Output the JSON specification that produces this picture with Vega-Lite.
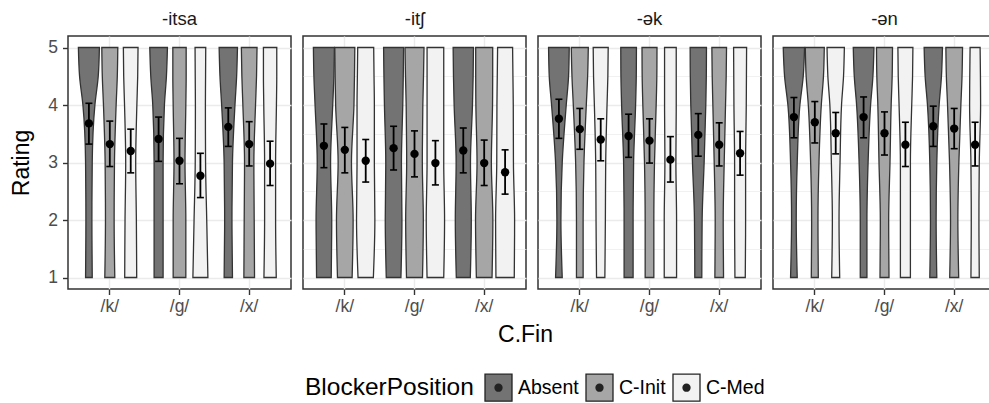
{
  "$schema": "https://vega.github.io/schema/vega-lite/v6.json",
  "background": "white",
  "padding": {"left": 10, "top": 8, "right": 0, "bottom": 0},
  "bounds": "flush",
  "config": {
    "font": "Liberation Sans",
    "view": {"stroke": "#333333", "strokeWidth": 1.5},
    "axis": {"domain": false, "tickColor": "#333333", "tickWidth": 1.4, "tickSize": 5.5, "labelFontSize": 17.5, "labelColor": "#4D4D4D", "labelPadding": 5, "gridColor": "#EBEBEB", "titleFontSize": 23, "titleFontWeight": "normal", "titleColor": "#000000"},
    "axisX": {"labelPadding": 3},
    "area": {"stroke": "#333333", "strokeWidth": 1.3, "interpolate": "monotone", "opacity": 1},
    "rule": {"color": "#000000", "strokeWidth": 1.8},
    "tick": {"size": 7, "thickness": 1.6, "opacity": 1, "color": "#000000"},
    "point": {"filled": true, "size": 70, "opacity": 1, "color": "#000000"},
    "title": {"fontSize": 18.5, "fontWeight": "normal", "color": "#1A1A1A", "anchor": "middle", "offset": 8}
  },
  "data": {"values": [
    {"s":"-itsa","c":"/k/","b":"Absent","r":1,"w":20},{"s":"-itsa","c":"/k/","b":"Absent","r":2,"w":18},{"s":"-itsa","c":"/k/","b":"Absent","r":3,"w":20},{"s":"-itsa","c":"/k/","b":"Absent","r":4,"w":36},{"s":"-itsa","c":"/k/","b":"Absent","r":4.5,"w":56},{"s":"-itsa","c":"/k/","b":"Absent","r":5,"w":63},
    {"s":"-itsa","c":"/k/","b":"C-Init","r":1,"w":30},{"s":"-itsa","c":"/k/","b":"C-Init","r":2,"w":26},{"s":"-itsa","c":"/k/","b":"C-Init","r":3,"w":28},{"s":"-itsa","c":"/k/","b":"C-Init","r":4,"w":38},{"s":"-itsa","c":"/k/","b":"C-Init","r":4.5,"w":45},{"s":"-itsa","c":"/k/","b":"C-Init","r":5,"w":48},
    {"s":"-itsa","c":"/k/","b":"C-Med","r":1,"w":36},{"s":"-itsa","c":"/k/","b":"C-Med","r":2,"w":34},{"s":"-itsa","c":"/k/","b":"C-Med","r":3,"w":30},{"s":"-itsa","c":"/k/","b":"C-Med","r":4,"w":37},{"s":"-itsa","c":"/k/","b":"C-Med","r":4.5,"w":42},{"s":"-itsa","c":"/k/","b":"C-Med","r":5,"w":44},
    {"s":"-itsa","c":"/g/","b":"Absent","r":1,"w":27},{"s":"-itsa","c":"/g/","b":"Absent","r":2,"w":27},{"s":"-itsa","c":"/g/","b":"Absent","r":3,"w":27},{"s":"-itsa","c":"/g/","b":"Absent","r":4,"w":35},{"s":"-itsa","c":"/g/","b":"Absent","r":4.5,"w":47},{"s":"-itsa","c":"/g/","b":"Absent","r":5,"w":53},
    {"s":"-itsa","c":"/g/","b":"C-Init","r":1,"w":38},{"s":"-itsa","c":"/g/","b":"C-Init","r":2,"w":38},{"s":"-itsa","c":"/g/","b":"C-Init","r":3,"w":33},{"s":"-itsa","c":"/g/","b":"C-Init","r":4,"w":38},{"s":"-itsa","c":"/g/","b":"C-Init","r":4.5,"w":40},{"s":"-itsa","c":"/g/","b":"C-Init","r":5,"w":40},
    {"s":"-itsa","c":"/g/","b":"C-Med","r":1,"w":45},{"s":"-itsa","c":"/g/","b":"C-Med","r":2,"w":38},{"s":"-itsa","c":"/g/","b":"C-Med","r":3,"w":31},{"s":"-itsa","c":"/g/","b":"C-Med","r":4,"w":30},{"s":"-itsa","c":"/g/","b":"C-Med","r":4.5,"w":31},{"s":"-itsa","c":"/g/","b":"C-Med","r":5,"w":32},
    {"s":"-itsa","c":"/x/","b":"Absent","r":1,"w":25},{"s":"-itsa","c":"/x/","b":"Absent","r":2,"w":22},{"s":"-itsa","c":"/x/","b":"Absent","r":3,"w":25},{"s":"-itsa","c":"/x/","b":"Absent","r":4,"w":40},{"s":"-itsa","c":"/x/","b":"Absent","r":4.5,"w":50},{"s":"-itsa","c":"/x/","b":"Absent","r":5,"w":55},
    {"s":"-itsa","c":"/x/","b":"C-Init","r":1,"w":32},{"s":"-itsa","c":"/x/","b":"C-Init","r":2,"w":30},{"s":"-itsa","c":"/x/","b":"C-Init","r":3,"w":28},{"s":"-itsa","c":"/x/","b":"C-Init","r":4,"w":38},{"s":"-itsa","c":"/x/","b":"C-Init","r":4.5,"w":44},{"s":"-itsa","c":"/x/","b":"C-Init","r":5,"w":47},
    {"s":"-itsa","c":"/x/","b":"C-Med","r":1,"w":37},{"s":"-itsa","c":"/x/","b":"C-Med","r":2,"w":33},{"s":"-itsa","c":"/x/","b":"C-Med","r":3,"w":33},{"s":"-itsa","c":"/x/","b":"C-Med","r":4,"w":38},{"s":"-itsa","c":"/x/","b":"C-Med","r":4.5,"w":40},{"s":"-itsa","c":"/x/","b":"C-Med","r":5,"w":40},

    {"s":"-itʃ","c":"/k/","b":"Absent","r":1,"w":44},{"s":"-itʃ","c":"/k/","b":"Absent","r":2,"w":47},{"s":"-itʃ","c":"/k/","b":"Absent","r":3,"w":40},{"s":"-itʃ","c":"/k/","b":"Absent","r":4,"w":53},{"s":"-itʃ","c":"/k/","b":"Absent","r":4.5,"w":60},{"s":"-itʃ","c":"/k/","b":"Absent","r":5,"w":63},
    {"s":"-itʃ","c":"/k/","b":"C-Init","r":1,"w":44},{"s":"-itʃ","c":"/k/","b":"C-Init","r":2,"w":50},{"s":"-itʃ","c":"/k/","b":"C-Init","r":3,"w":40},{"s":"-itʃ","c":"/k/","b":"C-Init","r":4,"w":55},{"s":"-itʃ","c":"/k/","b":"C-Init","r":4.5,"w":58},{"s":"-itʃ","c":"/k/","b":"C-Init","r":5,"w":60},
    {"s":"-itʃ","c":"/k/","b":"C-Med","r":1,"w":46},{"s":"-itʃ","c":"/k/","b":"C-Med","r":2,"w":55},{"s":"-itʃ","c":"/k/","b":"C-Med","r":3,"w":52},{"s":"-itʃ","c":"/k/","b":"C-Med","r":4,"w":52},{"s":"-itʃ","c":"/k/","b":"C-Med","r":4.5,"w":50},{"s":"-itʃ","c":"/k/","b":"C-Med","r":5,"w":48},
    {"s":"-itʃ","c":"/g/","b":"Absent","r":1,"w":44},{"s":"-itʃ","c":"/g/","b":"Absent","r":2,"w":50},{"s":"-itʃ","c":"/g/","b":"Absent","r":3,"w":47},{"s":"-itʃ","c":"/g/","b":"Absent","r":4,"w":55},{"s":"-itʃ","c":"/g/","b":"Absent","r":4.5,"w":58},{"s":"-itʃ","c":"/g/","b":"Absent","r":5,"w":60},
    {"s":"-itʃ","c":"/g/","b":"C-Init","r":1,"w":48},{"s":"-itʃ","c":"/g/","b":"C-Init","r":2,"w":53},{"s":"-itʃ","c":"/g/","b":"C-Init","r":3,"w":47},{"s":"-itʃ","c":"/g/","b":"C-Init","r":4,"w":50},{"s":"-itʃ","c":"/g/","b":"C-Init","r":4.5,"w":54},{"s":"-itʃ","c":"/g/","b":"C-Init","r":5,"w":57},
    {"s":"-itʃ","c":"/g/","b":"C-Med","r":1,"w":50},{"s":"-itʃ","c":"/g/","b":"C-Med","r":2,"w":55},{"s":"-itʃ","c":"/g/","b":"C-Med","r":3,"w":50},{"s":"-itʃ","c":"/g/","b":"C-Med","r":4,"w":50},{"s":"-itʃ","c":"/g/","b":"C-Med","r":4.5,"w":50},{"s":"-itʃ","c":"/g/","b":"C-Med","r":5,"w":50},
    {"s":"-itʃ","c":"/x/","b":"Absent","r":1,"w":42},{"s":"-itʃ","c":"/x/","b":"Absent","r":2,"w":48},{"s":"-itʃ","c":"/x/","b":"Absent","r":3,"w":43},{"s":"-itʃ","c":"/x/","b":"Absent","r":4,"w":55},{"s":"-itʃ","c":"/x/","b":"Absent","r":4.5,"w":59},{"s":"-itʃ","c":"/x/","b":"Absent","r":5,"w":61},
    {"s":"-itʃ","c":"/x/","b":"C-Init","r":1,"w":47},{"s":"-itʃ","c":"/x/","b":"C-Init","r":2,"w":52},{"s":"-itʃ","c":"/x/","b":"C-Init","r":3,"w":43},{"s":"-itʃ","c":"/x/","b":"C-Init","r":4,"w":50},{"s":"-itʃ","c":"/x/","b":"C-Init","r":4.5,"w":51},{"s":"-itʃ","c":"/x/","b":"C-Init","r":5,"w":51},
    {"s":"-itʃ","c":"/x/","b":"C-Med","r":1,"w":55},{"s":"-itʃ","c":"/x/","b":"C-Med","r":2,"w":57},{"s":"-itʃ","c":"/x/","b":"C-Med","r":3,"w":50},{"s":"-itʃ","c":"/x/","b":"C-Med","r":4,"w":49},{"s":"-itʃ","c":"/x/","b":"C-Med","r":4.5,"w":47},{"s":"-itʃ","c":"/x/","b":"C-Med","r":5,"w":45},

    {"s":"-ək","c":"/k/","b":"Absent","r":1,"w":20},{"s":"-ək","c":"/k/","b":"Absent","r":2,"w":12},{"s":"-ək","c":"/k/","b":"Absent","r":3,"w":20},{"s":"-ək","c":"/k/","b":"Absent","r":4,"w":44},{"s":"-ək","c":"/k/","b":"Absent","r":4.5,"w":58},{"s":"-ək","c":"/k/","b":"Absent","r":5,"w":62},
    {"s":"-ək","c":"/k/","b":"C-Init","r":1,"w":20},{"s":"-ək","c":"/k/","b":"C-Init","r":2,"w":20},{"s":"-ək","c":"/k/","b":"C-Init","r":3,"w":25},{"s":"-ək","c":"/k/","b":"C-Init","r":4,"w":39},{"s":"-ək","c":"/k/","b":"C-Init","r":4.5,"w":47},{"s":"-ək","c":"/k/","b":"C-Init","r":5,"w":51},
    {"s":"-ək","c":"/k/","b":"C-Med","r":1,"w":25},{"s":"-ək","c":"/k/","b":"C-Med","r":2,"w":28},{"s":"-ək","c":"/k/","b":"C-Med","r":3,"w":30},{"s":"-ək","c":"/k/","b":"C-Med","r":4,"w":38},{"s":"-ək","c":"/k/","b":"C-Med","r":4.5,"w":43},{"s":"-ək","c":"/k/","b":"C-Med","r":5,"w":45},
    {"s":"-ək","c":"/g/","b":"Absent","r":1,"w":27},{"s":"-ək","c":"/g/","b":"Absent","r":2,"w":27},{"s":"-ək","c":"/g/","b":"Absent","r":3,"w":30},{"s":"-ək","c":"/g/","b":"Absent","r":4,"w":42},{"s":"-ək","c":"/g/","b":"Absent","r":4.5,"w":46},{"s":"-ək","c":"/g/","b":"Absent","r":5,"w":47},
    {"s":"-ək","c":"/g/","b":"C-Init","r":1,"w":26},{"s":"-ək","c":"/g/","b":"C-Init","r":2,"w":26},{"s":"-ək","c":"/g/","b":"C-Init","r":3,"w":30},{"s":"-ək","c":"/g/","b":"C-Init","r":4,"w":40},{"s":"-ək","c":"/g/","b":"C-Init","r":4.5,"w":44},{"s":"-ək","c":"/g/","b":"C-Init","r":5,"w":45},
    {"s":"-ək","c":"/g/","b":"C-Med","r":1,"w":37},{"s":"-ək","c":"/g/","b":"C-Med","r":2,"w":37},{"s":"-ək","c":"/g/","b":"C-Med","r":3,"w":33},{"s":"-ək","c":"/g/","b":"C-Med","r":4,"w":35},{"s":"-ək","c":"/g/","b":"C-Med","r":4.5,"w":35},{"s":"-ək","c":"/g/","b":"C-Med","r":5,"w":35},
    {"s":"-ək","c":"/x/","b":"Absent","r":1,"w":21},{"s":"-ək","c":"/x/","b":"Absent","r":2,"w":23},{"s":"-ək","c":"/x/","b":"Absent","r":3,"w":35},{"s":"-ək","c":"/x/","b":"Absent","r":4,"w":45},{"s":"-ək","c":"/x/","b":"Absent","r":4.5,"w":48},{"s":"-ək","c":"/x/","b":"Absent","r":5,"w":49},
    {"s":"-ək","c":"/x/","b":"C-Init","r":1,"w":26},{"s":"-ək","c":"/x/","b":"C-Init","r":2,"w":24},{"s":"-ək","c":"/x/","b":"C-Init","r":3,"w":30},{"s":"-ək","c":"/x/","b":"C-Init","r":4,"w":38},{"s":"-ək","c":"/x/","b":"C-Init","r":4.5,"w":42},{"s":"-ək","c":"/x/","b":"C-Init","r":5,"w":44},
    {"s":"-ək","c":"/x/","b":"C-Med","r":1,"w":31},{"s":"-ək","c":"/x/","b":"C-Med","r":2,"w":33},{"s":"-ək","c":"/x/","b":"C-Med","r":3,"w":33},{"s":"-ək","c":"/x/","b":"C-Med","r":4,"w":37},{"s":"-ək","c":"/x/","b":"C-Med","r":4.5,"w":38},{"s":"-ək","c":"/x/","b":"C-Med","r":5,"w":39},

    {"s":"-ən","c":"/k/","b":"Absent","r":1,"w":20},{"s":"-ən","c":"/k/","b":"Absent","r":2,"w":14},{"s":"-ən","c":"/k/","b":"Absent","r":3,"w":20},{"s":"-ən","c":"/k/","b":"Absent","r":4,"w":36},{"s":"-ən","c":"/k/","b":"Absent","r":4.5,"w":56},{"s":"-ən","c":"/k/","b":"Absent","r":5,"w":64},
    {"s":"-ən","c":"/k/","b":"C-Init","r":1,"w":21},{"s":"-ən","c":"/k/","b":"C-Init","r":2,"w":19},{"s":"-ən","c":"/k/","b":"C-Init","r":3,"w":25},{"s":"-ən","c":"/k/","b":"C-Init","r":4,"w":39},{"s":"-ən","c":"/k/","b":"C-Init","r":4.5,"w":52},{"s":"-ən","c":"/k/","b":"C-Init","r":5,"w":57},
    {"s":"-ən","c":"/k/","b":"C-Med","r":1,"w":24},{"s":"-ən","c":"/k/","b":"C-Med","r":2,"w":20},{"s":"-ən","c":"/k/","b":"C-Med","r":3,"w":26},{"s":"-ən","c":"/k/","b":"C-Med","r":4,"w":35},{"s":"-ən","c":"/k/","b":"C-Med","r":4.5,"w":47},{"s":"-ən","c":"/k/","b":"C-Med","r":5,"w":52},
    {"s":"-ən","c":"/g/","b":"Absent","r":1,"w":20},{"s":"-ən","c":"/g/","b":"Absent","r":2,"w":20},{"s":"-ən","c":"/g/","b":"Absent","r":3,"w":27},{"s":"-ən","c":"/g/","b":"Absent","r":4,"w":42},{"s":"-ən","c":"/g/","b":"Absent","r":4.5,"w":56},{"s":"-ən","c":"/g/","b":"Absent","r":5,"w":62},
    {"s":"-ən","c":"/g/","b":"C-Init","r":1,"w":27},{"s":"-ən","c":"/g/","b":"C-Init","r":2,"w":25},{"s":"-ən","c":"/g/","b":"C-Init","r":3,"w":33},{"s":"-ən","c":"/g/","b":"C-Init","r":4,"w":40},{"s":"-ən","c":"/g/","b":"C-Init","r":4.5,"w":46},{"s":"-ən","c":"/g/","b":"C-Init","r":5,"w":48},
    {"s":"-ən","c":"/g/","b":"C-Med","r":1,"w":30},{"s":"-ən","c":"/g/","b":"C-Med","r":2,"w":30},{"s":"-ən","c":"/g/","b":"C-Med","r":3,"w":30},{"s":"-ən","c":"/g/","b":"C-Med","r":4,"w":38},{"s":"-ən","c":"/g/","b":"C-Med","r":4.5,"w":43},{"s":"-ən","c":"/g/","b":"C-Med","r":5,"w":45},
    {"s":"-ən","c":"/x/","b":"Absent","r":1,"w":21},{"s":"-ən","c":"/x/","b":"Absent","r":2,"w":17},{"s":"-ən","c":"/x/","b":"Absent","r":3,"w":21},{"s":"-ən","c":"/x/","b":"Absent","r":4,"w":35},{"s":"-ən","c":"/x/","b":"Absent","r":4.5,"w":49},{"s":"-ən","c":"/x/","b":"Absent","r":5,"w":55},
    {"s":"-ən","c":"/x/","b":"C-Init","r":1,"w":27},{"s":"-ən","c":"/x/","b":"C-Init","r":2,"w":22},{"s":"-ən","c":"/x/","b":"C-Init","r":3,"w":28},{"s":"-ən","c":"/x/","b":"C-Init","r":4,"w":40},{"s":"-ən","c":"/x/","b":"C-Init","r":4.5,"w":47},{"s":"-ən","c":"/x/","b":"C-Init","r":5,"w":50},
    {"s":"-ən","c":"/x/","b":"C-Med","r":1,"w":25},{"s":"-ən","c":"/x/","b":"C-Med","r":2,"w":23},{"s":"-ən","c":"/x/","b":"C-Med","r":3,"w":25},{"s":"-ən","c":"/x/","b":"C-Med","r":4,"w":33},{"s":"-ən","c":"/x/","b":"C-Med","r":4.5,"w":32},{"s":"-ən","c":"/x/","b":"C-Med","r":5,"w":30},

    {"s":"-itsa","c":"/k/","b":"Absent","r":3.68,"lo":3.32,"hi":4.03},
    {"s":"-itsa","c":"/k/","b":"C-Init","r":3.32,"lo":2.93,"hi":3.72},
    {"s":"-itsa","c":"/k/","b":"C-Med","r":3.20,"lo":2.82,"hi":3.58},
    {"s":"-itsa","c":"/g/","b":"Absent","r":3.41,"lo":3.02,"hi":3.79},
    {"s":"-itsa","c":"/g/","b":"C-Init","r":3.03,"lo":2.63,"hi":3.42},
    {"s":"-itsa","c":"/g/","b":"C-Med","r":2.77,"lo":2.39,"hi":3.16},
    {"s":"-itsa","c":"/x/","b":"Absent","r":3.62,"lo":3.28,"hi":3.95},
    {"s":"-itsa","c":"/x/","b":"C-Init","r":3.32,"lo":2.94,"hi":3.71},
    {"s":"-itsa","c":"/x/","b":"C-Med","r":2.98,"lo":2.60,"hi":3.37},
    {"s":"-itʃ","c":"/k/","b":"Absent","r":3.29,"lo":2.91,"hi":3.67},
    {"s":"-itʃ","c":"/k/","b":"C-Init","r":3.22,"lo":2.82,"hi":3.61},
    {"s":"-itʃ","c":"/k/","b":"C-Med","r":3.03,"lo":2.66,"hi":3.40},
    {"s":"-itʃ","c":"/g/","b":"Absent","r":3.25,"lo":2.87,"hi":3.63},
    {"s":"-itʃ","c":"/g/","b":"C-Init","r":3.15,"lo":2.75,"hi":3.55},
    {"s":"-itʃ","c":"/g/","b":"C-Med","r":2.99,"lo":2.61,"hi":3.38},
    {"s":"-itʃ","c":"/x/","b":"Absent","r":3.21,"lo":2.82,"hi":3.60},
    {"s":"-itʃ","c":"/x/","b":"C-Init","r":2.99,"lo":2.60,"hi":3.39},
    {"s":"-itʃ","c":"/x/","b":"C-Med","r":2.83,"lo":2.45,"hi":3.22},
    {"s":"-ək","c":"/k/","b":"Absent","r":3.76,"lo":3.42,"hi":4.10},
    {"s":"-ək","c":"/k/","b":"C-Init","r":3.58,"lo":3.23,"hi":3.94},
    {"s":"-ək","c":"/k/","b":"C-Med","r":3.40,"lo":3.03,"hi":3.76},
    {"s":"-ək","c":"/g/","b":"Absent","r":3.46,"lo":3.09,"hi":3.84},
    {"s":"-ək","c":"/g/","b":"C-Init","r":3.38,"lo":2.99,"hi":3.76},
    {"s":"-ək","c":"/g/","b":"C-Med","r":3.05,"lo":2.66,"hi":3.45},
    {"s":"-ək","c":"/x/","b":"Absent","r":3.48,"lo":3.11,"hi":3.85},
    {"s":"-ək","c":"/x/","b":"C-Init","r":3.31,"lo":2.94,"hi":3.69},
    {"s":"-ək","c":"/x/","b":"C-Med","r":3.16,"lo":2.78,"hi":3.54},
    {"s":"-ən","c":"/k/","b":"Absent","r":3.79,"lo":3.43,"hi":4.13},
    {"s":"-ən","c":"/k/","b":"C-Init","r":3.70,"lo":3.34,"hi":4.06},
    {"s":"-ən","c":"/k/","b":"C-Med","r":3.51,"lo":3.15,"hi":3.87},
    {"s":"-ən","c":"/g/","b":"Absent","r":3.79,"lo":3.43,"hi":4.14},
    {"s":"-ən","c":"/g/","b":"C-Init","r":3.51,"lo":3.13,"hi":3.88},
    {"s":"-ən","c":"/g/","b":"C-Med","r":3.31,"lo":2.93,"hi":3.70},
    {"s":"-ən","c":"/x/","b":"Absent","r":3.63,"lo":3.28,"hi":3.98},
    {"s":"-ən","c":"/x/","b":"C-Init","r":3.59,"lo":3.24,"hi":3.94},
    {"s":"-ən","c":"/x/","b":"C-Med","r":3.31,"lo":2.94,"hi":3.70}
  ]},
  "spacing": 12,
  "resolve": {"scale": {"fill": "shared"}, "legend": {"fill": "shared"}},
  "hconcat": [
    {
      "width": 223, "height": 253,
      "title": {"text": "-itsa"},
      "transform": [{"filter": "datum.s === '-itsa'"}],
      "encoding": {
        "y": {"field": "r", "type": "quantitative", "scale": {"domain": [0.8, 5.2], "nice": false, "zero": false},
          "axis": {"title": "Rating", "values": [1, 1.5, 2, 2.5, 3, 3.5, 4, 4.5, 5], "format": "d", "labelExpr": "datum.value % 1 === 0 ? datum.label : ''", "grid": true, "titlePadding": 14,
            "gridWidth": {"condition": {"test": "datum.value % 1 !== 0", "value": 0.7}, "value": 1.4},
            "tickOpacity": {"condition": {"test": "datum.value % 1 !== 0", "value": 0}, "value": 1}}},
        "fill": {"field": "b", "type": "nominal", "scale": {"domain": ["Absent", "C-Init", "C-Med"], "range": ["#737373", "#A6A6A6", "#F2F2F2"]},
          "legend": {"title": "BlockerPosition", "orient": "none", "legendX": 237, "legendY": 337, "direction": "horizontal", "titleOrient": "left", "titleAnchor": "middle", "titleBaseline": "middle", "titleFontSize": 24.5, "titleFontWeight": "normal", "titleColor": "#000000", "labelFontSize": 19.5, "labelColor": "#000000",
            "symbolType": "M-1,-1H1V1H-1Z M0.26,0A0.26,0.26 0 1,1 -0.26,0A0.26,0.26 0 1,1 0.26,0Z M0.19,0A0.19,0.19 0 1,1 -0.19,0A0.19,0.19 0 1,1 0.19,0Z M0.12,0A0.12,0.12 0 1,1 -0.12,0A0.12,0.12 0 1,1 0.12,0Z M0.05,0A0.05,0.05 0 1,1 -0.05,0A0.05,0.05 0 1,1 0.05,0Z",
            "symbolSize": 729, "symbolStrokeColor": "#222222", "symbolStrokeWidth": 1.2, "symbolOpacity": 1, "labelOffset": 5, "columnPadding": 4, "titlePadding": 10}}
      },
      "layer": [
        {"transform": [{"filter": "datum.c === '/k/' && datum.b === 'Absent' && isValid(datum.w)"}], "mark": {"type": "area", "orient": "horizontal"}, "encoding": {"x": {"field": "w", "type": "quantitative", "stack": "center", "axis": null, "scale": {"domain": [-31.2, 637.8], "nice": false, "zero": false}}}},
        {"transform": [{"filter": "datum.c === '/k/' && datum.b === 'C-Init' && isValid(datum.w)"}], "mark": {"type": "area", "orient": "horizontal"}, "encoding": {"x": {"field": "w", "type": "quantitative", "stack": "center", "axis": null, "scale": {"domain": [-101.4, 567.6], "nice": false, "zero": false}}}},
        {"transform": [{"filter": "datum.c === '/k/' && datum.b === 'C-Med' && isValid(datum.w)"}], "mark": {"type": "area", "orient": "horizontal"}, "encoding": {"x": {"field": "w", "type": "quantitative", "stack": "center", "axis": null, "scale": {"domain": [-166.1, 502.9], "nice": false, "zero": false}}}},
        {"transform": [{"filter": "datum.c === '/g/' && datum.b === 'Absent' && isValid(datum.w)"}], "mark": {"type": "area", "orient": "horizontal"}, "encoding": {"x": {"field": "w", "type": "quantitative", "stack": "center", "axis": null, "scale": {"domain": [-245.3, 423.7], "nice": false, "zero": false}}}},
        {"transform": [{"filter": "datum.c === '/g/' && datum.b === 'C-Init' && isValid(datum.w)"}], "mark": {"type": "area", "orient": "horizontal"}, "encoding": {"x": {"field": "w", "type": "quantitative", "stack": "center", "axis": null, "scale": {"domain": [-314.5, 354.5], "nice": false, "zero": false}}}},
        {"transform": [{"filter": "datum.c === '/g/' && datum.b === 'C-Med' && isValid(datum.w)"}], "mark": {"type": "area", "orient": "horizontal"}, "encoding": {"x": {"field": "w", "type": "quantitative", "stack": "center", "axis": null, "scale": {"domain": [-374.7, 294.3], "nice": false, "zero": false}}}},
        {"transform": [{"filter": "datum.c === '/x/' && datum.b === 'Absent' && isValid(datum.w)"}], "mark": {"type": "area", "orient": "horizontal"}, "encoding": {"x": {"field": "w", "type": "quantitative", "stack": "center", "axis": null, "scale": {"domain": [-453.4, 215.6], "nice": false, "zero": false}}}},
        {"transform": [{"filter": "datum.c === '/x/' && datum.b === 'C-Init' && isValid(datum.w)"}], "mark": {"type": "area", "orient": "horizontal"}, "encoding": {"x": {"field": "w", "type": "quantitative", "stack": "center", "axis": null, "scale": {"domain": [-520.1, 148.9], "nice": false, "zero": false}}}},
        {"transform": [{"filter": "datum.c === '/x/' && datum.b === 'C-Med' && isValid(datum.w)"}], "mark": {"type": "area", "orient": "horizontal"}, "encoding": {"x": {"field": "w", "type": "quantitative", "stack": "center", "axis": null, "scale": {"domain": [-586.3, 82.7], "nice": false, "zero": false}}}},
        {"transform": [{"filter": "isValid(datum.lo)"}], "mark": {"type": "rule"}, "encoding": {"x": {"field": "c", "type": "nominal", "sort": ["/k/", "/g/", "/x/"], "scale": {"type": "band", "paddingInner": 0, "paddingOuter": 0.1}, "axis": null}, "xOffset": {"field": "b", "type": "nominal", "sort": ["Absent", "C-Init", "C-Med"], "scale": {"paddingInner": 0, "paddingOuter": 0.1667}}, "y": {"field": "lo", "type": "quantitative", "scale": {"domain": [0.8, 5.2], "nice": false, "zero": false}}, "y2": {"field": "hi"}, "fill": {"value": "#000000"}}},
        {"transform": [{"filter": "isValid(datum.lo)"}], "mark": {"type": "tick", "orient": "horizontal"}, "encoding": {"x": {"field": "c", "type": "nominal", "sort": ["/k/", "/g/", "/x/"], "scale": {"type": "band", "paddingInner": 0, "paddingOuter": 0.1}, "axis": null}, "xOffset": {"field": "b", "type": "nominal", "sort": ["Absent", "C-Init", "C-Med"], "scale": {"paddingInner": 0, "paddingOuter": 0.1667}}, "y": {"field": "lo", "type": "quantitative", "scale": {"domain": [0.8, 5.2], "nice": false, "zero": false}}, "fill": {"value": "#000000"}}},
        {"transform": [{"filter": "isValid(datum.lo)"}], "mark": {"type": "tick", "orient": "horizontal"}, "encoding": {"x": {"field": "c", "type": "nominal", "sort": ["/k/", "/g/", "/x/"], "scale": {"type": "band", "paddingInner": 0, "paddingOuter": 0.1}, "axis": null}, "xOffset": {"field": "b", "type": "nominal", "sort": ["Absent", "C-Init", "C-Med"], "scale": {"paddingInner": 0, "paddingOuter": 0.1667}}, "y": {"field": "hi", "type": "quantitative", "scale": {"domain": [0.8, 5.2], "nice": false, "zero": false}}, "fill": {"value": "#000000"}}},
        {"transform": [{"filter": "isValid(datum.lo)"}], "mark": {"type": "point"}, "encoding": {"x": {"field": "c", "type": "nominal", "sort": ["/k/", "/g/", "/x/"], "scale": {"type": "band", "paddingInner": 0, "paddingOuter": 0.1}, "axis": {"title": null, "labelAngle": 0, "grid": true, "gridWidth": 1.4, "bandPosition": 0.5}}, "xOffset": {"field": "b", "type": "nominal", "sort": ["Absent", "C-Init", "C-Med"], "scale": {"paddingInner": 0, "paddingOuter": 0.1667}}, "fill": {"value": "#000000"}}}
      ],
      "resolve": {"scale": {"x": "independent"}}
    },
    {
      "width": 223, "height": 253,
      "title": {"text": "-itʃ"},
      "transform": [{"filter": "datum.s === '-itʃ'"}],
      "encoding": {
        "y": {"field": "r", "type": "quantitative", "scale": {"domain": [0.8, 5.2], "nice": false, "zero": false},
          "axis": {"title": null, "values": [1, 1.5, 2, 2.5, 3, 3.5, 4, 4.5, 5], "labels": false, "ticks": false, "grid": true,
            "gridWidth": {"condition": {"test": "datum.value % 1 !== 0", "value": 0.7}, "value": 1.4}}},
        "fill": {"field": "b", "type": "nominal", "scale": {"domain": ["Absent", "C-Init", "C-Med"], "range": ["#737373", "#A6A6A6", "#F2F2F2"]}}
      },
      "layer": [
        {"transform": [{"filter": "datum.c === '/k/' && datum.b === 'Absent' && isValid(datum.w)"}], "mark": {"type": "area", "orient": "horizontal"}, "encoding": {"x": {"field": "w", "type": "quantitative", "stack": "center", "axis": null, "scale": {"domain": [-31.2, 637.8], "nice": false, "zero": false}}}},
        {"transform": [{"filter": "datum.c === '/k/' && datum.b === 'C-Init' && isValid(datum.w)"}], "mark": {"type": "area", "orient": "horizontal"}, "encoding": {"x": {"field": "w", "type": "quantitative", "stack": "center", "axis": null, "scale": {"domain": [-95.4, 573.6], "nice": false, "zero": false}}}},
        {"transform": [{"filter": "datum.c === '/k/' && datum.b === 'C-Med' && isValid(datum.w)"}], "mark": {"type": "area", "orient": "horizontal"}, "encoding": {"x": {"field": "w", "type": "quantitative", "stack": "center", "axis": null, "scale": {"domain": [-160.6, 508.4], "nice": false, "zero": false}}}},
        {"transform": [{"filter": "datum.c === '/g/' && datum.b === 'Absent' && isValid(datum.w)"}], "mark": {"type": "area", "orient": "horizontal"}, "encoding": {"x": {"field": "w", "type": "quantitative", "stack": "center", "axis": null, "scale": {"domain": [-241.8, 427.2], "nice": false, "zero": false}}}},
        {"transform": [{"filter": "datum.c === '/g/' && datum.b === 'C-Init' && isValid(datum.w)"}], "mark": {"type": "area", "orient": "horizontal"}, "encoding": {"x": {"field": "w", "type": "quantitative", "stack": "center", "axis": null, "scale": {"domain": [-306, 363], "nice": false, "zero": false}}}},
        {"transform": [{"filter": "datum.c === '/g/' && datum.b === 'C-Med' && isValid(datum.w)"}], "mark": {"type": "area", "orient": "horizontal"}, "encoding": {"x": {"field": "w", "type": "quantitative", "stack": "center", "axis": null, "scale": {"domain": [-369.7, 299.3], "nice": false, "zero": false}}}},
        {"transform": [{"filter": "datum.c === '/x/' && datum.b === 'Absent' && isValid(datum.w)"}], "mark": {"type": "area", "orient": "horizontal"}, "encoding": {"x": {"field": "w", "type": "quantitative", "stack": "center", "axis": null, "scale": {"domain": [-450.4, 218.6], "nice": false, "zero": false}}}},
        {"transform": [{"filter": "datum.c === '/x/' && datum.b === 'C-Init' && isValid(datum.w)"}], "mark": {"type": "area", "orient": "horizontal"}, "encoding": {"x": {"field": "w", "type": "quantitative", "stack": "center", "axis": null, "scale": {"domain": [-517.6, 151.4], "nice": false, "zero": false}}}},
        {"transform": [{"filter": "datum.c === '/x/' && datum.b === 'C-Med' && isValid(datum.w)"}], "mark": {"type": "area", "orient": "horizontal"}, "encoding": {"x": {"field": "w", "type": "quantitative", "stack": "center", "axis": null, "scale": {"domain": [-577.8, 91.2], "nice": false, "zero": false}}}},
        {"transform": [{"filter": "isValid(datum.lo)"}], "mark": {"type": "rule"}, "encoding": {"x": {"field": "c", "type": "nominal", "sort": ["/k/", "/g/", "/x/"], "scale": {"type": "band", "paddingInner": 0, "paddingOuter": 0.1}, "axis": null}, "xOffset": {"field": "b", "type": "nominal", "sort": ["Absent", "C-Init", "C-Med"], "scale": {"paddingInner": 0, "paddingOuter": 0.1667}}, "y": {"field": "lo", "type": "quantitative", "scale": {"domain": [0.8, 5.2], "nice": false, "zero": false}}, "y2": {"field": "hi"}, "fill": {"value": "#000000"}}},
        {"transform": [{"filter": "isValid(datum.lo)"}], "mark": {"type": "tick", "orient": "horizontal"}, "encoding": {"x": {"field": "c", "type": "nominal", "sort": ["/k/", "/g/", "/x/"], "scale": {"type": "band", "paddingInner": 0, "paddingOuter": 0.1}, "axis": null}, "xOffset": {"field": "b", "type": "nominal", "sort": ["Absent", "C-Init", "C-Med"], "scale": {"paddingInner": 0, "paddingOuter": 0.1667}}, "y": {"field": "lo", "type": "quantitative", "scale": {"domain": [0.8, 5.2], "nice": false, "zero": false}}, "fill": {"value": "#000000"}}},
        {"transform": [{"filter": "isValid(datum.lo)"}], "mark": {"type": "tick", "orient": "horizontal"}, "encoding": {"x": {"field": "c", "type": "nominal", "sort": ["/k/", "/g/", "/x/"], "scale": {"type": "band", "paddingInner": 0, "paddingOuter": 0.1}, "axis": null}, "xOffset": {"field": "b", "type": "nominal", "sort": ["Absent", "C-Init", "C-Med"], "scale": {"paddingInner": 0, "paddingOuter": 0.1667}}, "y": {"field": "hi", "type": "quantitative", "scale": {"domain": [0.8, 5.2], "nice": false, "zero": false}}, "fill": {"value": "#000000"}}},
        {"transform": [{"filter": "isValid(datum.lo)"}], "mark": {"type": "point"}, "encoding": {"x": {"field": "c", "type": "nominal", "sort": ["/k/", "/g/", "/x/"], "scale": {"type": "band", "paddingInner": 0, "paddingOuter": 0.1}, "axis": {"title": "C.Fin", "titleX": 222, "titleAlign": "center", "titlePadding": 8, "labelAngle": 0, "grid": true, "gridWidth": 1.4, "bandPosition": 0.5}}, "xOffset": {"field": "b", "type": "nominal", "sort": ["Absent", "C-Init", "C-Med"], "scale": {"paddingInner": 0, "paddingOuter": 0.1667}}, "fill": {"value": "#000000"}}}
      ],
      "resolve": {"scale": {"x": "independent"}}
    },
    {
      "width": 223, "height": 253,
      "title": {"text": "-ək"},
      "transform": [{"filter": "datum.s === '-ək'"}],
      "encoding": {
        "y": {"field": "r", "type": "quantitative", "scale": {"domain": [0.8, 5.2], "nice": false, "zero": false},
          "axis": {"title": null, "values": [1, 1.5, 2, 2.5, 3, 3.5, 4, 4.5, 5], "labels": false, "ticks": false, "grid": true,
            "gridWidth": {"condition": {"test": "datum.value % 1 !== 0", "value": 0.7}, "value": 1.4}}},
        "fill": {"field": "b", "type": "nominal", "scale": {"domain": ["Absent", "C-Init", "C-Med"], "range": ["#737373", "#A6A6A6", "#F2F2F2"]}}
      },
      "layer": [
        {"transform": [{"filter": "datum.c === '/k/' && datum.b === 'Absent' && isValid(datum.w)"}], "mark": {"type": "area", "orient": "horizontal"}, "encoding": {"x": {"field": "w", "type": "quantitative", "stack": "center", "axis": null, "scale": {"domain": [-31.7, 637.3], "nice": false, "zero": false}}}},
        {"transform": [{"filter": "datum.c === '/k/' && datum.b === 'C-Init' && isValid(datum.w)"}], "mark": {"type": "area", "orient": "horizontal"}, "encoding": {"x": {"field": "w", "type": "quantitative", "stack": "center", "axis": null, "scale": {"domain": [-99.9, 569.1], "nice": false, "zero": false}}}},
        {"transform": [{"filter": "datum.c === '/k/' && datum.b === 'C-Med' && isValid(datum.w)"}], "mark": {"type": "area", "orient": "horizontal"}, "encoding": {"x": {"field": "w", "type": "quantitative", "stack": "center", "axis": null, "scale": {"domain": [-165.6, 503.4], "nice": false, "zero": false}}}},
        {"transform": [{"filter": "datum.c === '/g/' && datum.b === 'Absent' && isValid(datum.w)"}], "mark": {"type": "area", "orient": "horizontal"}, "encoding": {"x": {"field": "w", "type": "quantitative", "stack": "center", "axis": null, "scale": {"domain": [-248.3, 420.7], "nice": false, "zero": false}}}},
        {"transform": [{"filter": "datum.c === '/g/' && datum.b === 'C-Init' && isValid(datum.w)"}], "mark": {"type": "area", "orient": "horizontal"}, "encoding": {"x": {"field": "w", "type": "quantitative", "stack": "center", "axis": null, "scale": {"domain": [-312, 357], "nice": false, "zero": false}}}},
        {"transform": [{"filter": "datum.c === '/g/' && datum.b === 'C-Med' && isValid(datum.w)"}], "mark": {"type": "area", "orient": "horizontal"}, "encoding": {"x": {"field": "w", "type": "quantitative", "stack": "center", "axis": null, "scale": {"domain": [-378.7, 290.3], "nice": false, "zero": false}}}},
        {"transform": [{"filter": "datum.c === '/x/' && datum.b === 'Absent' && isValid(datum.w)"}], "mark": {"type": "area", "orient": "horizontal"}, "encoding": {"x": {"field": "w", "type": "quantitative", "stack": "center", "axis": null, "scale": {"domain": [-456.4, 212.6], "nice": false, "zero": false}}}},
        {"transform": [{"filter": "datum.c === '/x/' && datum.b === 'C-Init' && isValid(datum.w)"}], "mark": {"type": "area", "orient": "horizontal"}, "encoding": {"x": {"field": "w", "type": "quantitative", "stack": "center", "axis": null, "scale": {"domain": [-521.6, 147.4], "nice": false, "zero": false}}}},
        {"transform": [{"filter": "datum.c === '/x/' && datum.b === 'C-Med' && isValid(datum.w)"}], "mark": {"type": "area", "orient": "horizontal"}, "encoding": {"x": {"field": "w", "type": "quantitative", "stack": "center", "axis": null, "scale": {"domain": [-586.8, 82.2], "nice": false, "zero": false}}}},
        {"transform": [{"filter": "isValid(datum.lo)"}], "mark": {"type": "rule"}, "encoding": {"x": {"field": "c", "type": "nominal", "sort": ["/k/", "/g/", "/x/"], "scale": {"type": "band", "paddingInner": 0, "paddingOuter": 0.1}, "axis": null}, "xOffset": {"field": "b", "type": "nominal", "sort": ["Absent", "C-Init", "C-Med"], "scale": {"paddingInner": 0, "paddingOuter": 0.1667}}, "y": {"field": "lo", "type": "quantitative", "scale": {"domain": [0.8, 5.2], "nice": false, "zero": false}}, "y2": {"field": "hi"}, "fill": {"value": "#000000"}}},
        {"transform": [{"filter": "isValid(datum.lo)"}], "mark": {"type": "tick", "orient": "horizontal"}, "encoding": {"x": {"field": "c", "type": "nominal", "sort": ["/k/", "/g/", "/x/"], "scale": {"type": "band", "paddingInner": 0, "paddingOuter": 0.1}, "axis": null}, "xOffset": {"field": "b", "type": "nominal", "sort": ["Absent", "C-Init", "C-Med"], "scale": {"paddingInner": 0, "paddingOuter": 0.1667}}, "y": {"field": "lo", "type": "quantitative", "scale": {"domain": [0.8, 5.2], "nice": false, "zero": false}}, "fill": {"value": "#000000"}}},
        {"transform": [{"filter": "isValid(datum.lo)"}], "mark": {"type": "tick", "orient": "horizontal"}, "encoding": {"x": {"field": "c", "type": "nominal", "sort": ["/k/", "/g/", "/x/"], "scale": {"type": "band", "paddingInner": 0, "paddingOuter": 0.1}, "axis": null}, "xOffset": {"field": "b", "type": "nominal", "sort": ["Absent", "C-Init", "C-Med"], "scale": {"paddingInner": 0, "paddingOuter": 0.1667}}, "y": {"field": "hi", "type": "quantitative", "scale": {"domain": [0.8, 5.2], "nice": false, "zero": false}}, "fill": {"value": "#000000"}}},
        {"transform": [{"filter": "isValid(datum.lo)"}], "mark": {"type": "point"}, "encoding": {"x": {"field": "c", "type": "nominal", "sort": ["/k/", "/g/", "/x/"], "scale": {"type": "band", "paddingInner": 0, "paddingOuter": 0.1}, "axis": {"title": null, "labelAngle": 0, "grid": true, "gridWidth": 1.4, "bandPosition": 0.5}}, "xOffset": {"field": "b", "type": "nominal", "sort": ["Absent", "C-Init", "C-Med"], "scale": {"paddingInner": 0, "paddingOuter": 0.1667}}, "fill": {"value": "#000000"}}}
      ],
      "resolve": {"scale": {"x": "independent"}}
    },
    {
      "width": 223, "height": 253,
      "title": {"text": "-ən"},
      "transform": [{"filter": "datum.s === '-ən'"}],
      "encoding": {
        "y": {"field": "r", "type": "quantitative", "scale": {"domain": [0.8, 5.2], "nice": false, "zero": false},
          "axis": {"title": null, "values": [1, 1.5, 2, 2.5, 3, 3.5, 4, 4.5, 5], "labels": false, "ticks": false, "grid": true,
            "gridWidth": {"condition": {"test": "datum.value % 1 !== 0", "value": 0.7}, "value": 1.4}}},
        "fill": {"field": "b", "type": "nominal", "scale": {"domain": ["Absent", "C-Init", "C-Med"], "range": ["#737373", "#A6A6A6", "#F2F2F2"]}}
      },
      "layer": [
        {"transform": [{"filter": "datum.c === '/k/' && datum.b === 'Absent' && isValid(datum.w)"}], "mark": {"type": "area", "orient": "horizontal"}, "encoding": {"x": {"field": "w", "type": "quantitative", "stack": "center", "axis": null, "scale": {"domain": [-30.7, 638.3], "nice": false, "zero": false}}}},
        {"transform": [{"filter": "datum.c === '/k/' && datum.b === 'C-Init' && isValid(datum.w)"}], "mark": {"type": "area", "orient": "horizontal"}, "encoding": {"x": {"field": "w", "type": "quantitative", "stack": "center", "axis": null, "scale": {"domain": [-96.9, 572.1], "nice": false, "zero": false}}}},
        {"transform": [{"filter": "datum.c === '/k/' && datum.b === 'C-Med' && isValid(datum.w)"}], "mark": {"type": "area", "orient": "horizontal"}, "encoding": {"x": {"field": "w", "type": "quantitative", "stack": "center", "axis": null, "scale": {"domain": [-162.1, 506.9], "nice": false, "zero": false}}}},
        {"transform": [{"filter": "datum.c === '/g/' && datum.b === 'Absent' && isValid(datum.w)"}], "mark": {"type": "area", "orient": "horizontal"}, "encoding": {"x": {"field": "w", "type": "quantitative", "stack": "center", "axis": null, "scale": {"domain": [-240.8, 428.2], "nice": false, "zero": false}}}},
        {"transform": [{"filter": "datum.c === '/g/' && datum.b === 'C-Init' && isValid(datum.w)"}], "mark": {"type": "area", "orient": "horizontal"}, "encoding": {"x": {"field": "w", "type": "quantitative", "stack": "center", "axis": null, "scale": {"domain": [-310.5, 358.5], "nice": false, "zero": false}}}},
        {"transform": [{"filter": "datum.c === '/g/' && datum.b === 'C-Med' && isValid(datum.w)"}], "mark": {"type": "area", "orient": "horizontal"}, "encoding": {"x": {"field": "w", "type": "quantitative", "stack": "center", "axis": null, "scale": {"domain": [-374.7, 294.3], "nice": false, "zero": false}}}},
        {"transform": [{"filter": "datum.c === '/x/' && datum.b === 'Absent' && isValid(datum.w)"}], "mark": {"type": "area", "orient": "horizontal"}, "encoding": {"x": {"field": "w", "type": "quantitative", "stack": "center", "axis": null, "scale": {"domain": [-453.4, 215.6], "nice": false, "zero": false}}}},
        {"transform": [{"filter": "datum.c === '/x/' && datum.b === 'C-Init' && isValid(datum.w)"}], "mark": {"type": "area", "orient": "horizontal"}, "encoding": {"x": {"field": "w", "type": "quantitative", "stack": "center", "axis": null, "scale": {"domain": [-518.6, 150.4], "nice": false, "zero": false}}}},
        {"transform": [{"filter": "datum.c === '/x/' && datum.b === 'C-Med' && isValid(datum.w)"}], "mark": {"type": "area", "orient": "horizontal"}, "encoding": {"x": {"field": "w", "type": "quantitative", "stack": "center", "axis": null, "scale": {"domain": [-589.8, 79.2], "nice": false, "zero": false}}}},
        {"transform": [{"filter": "isValid(datum.lo)"}], "mark": {"type": "rule"}, "encoding": {"x": {"field": "c", "type": "nominal", "sort": ["/k/", "/g/", "/x/"], "scale": {"type": "band", "paddingInner": 0, "paddingOuter": 0.1}, "axis": null}, "xOffset": {"field": "b", "type": "nominal", "sort": ["Absent", "C-Init", "C-Med"], "scale": {"paddingInner": 0, "paddingOuter": 0.1667}}, "y": {"field": "lo", "type": "quantitative", "scale": {"domain": [0.8, 5.2], "nice": false, "zero": false}}, "y2": {"field": "hi"}, "fill": {"value": "#000000"}}},
        {"transform": [{"filter": "isValid(datum.lo)"}], "mark": {"type": "tick", "orient": "horizontal"}, "encoding": {"x": {"field": "c", "type": "nominal", "sort": ["/k/", "/g/", "/x/"], "scale": {"type": "band", "paddingInner": 0, "paddingOuter": 0.1}, "axis": null}, "xOffset": {"field": "b", "type": "nominal", "sort": ["Absent", "C-Init", "C-Med"], "scale": {"paddingInner": 0, "paddingOuter": 0.1667}}, "y": {"field": "lo", "type": "quantitative", "scale": {"domain": [0.8, 5.2], "nice": false, "zero": false}}, "fill": {"value": "#000000"}}},
        {"transform": [{"filter": "isValid(datum.lo)"}], "mark": {"type": "tick", "orient": "horizontal"}, "encoding": {"x": {"field": "c", "type": "nominal", "sort": ["/k/", "/g/", "/x/"], "scale": {"type": "band", "paddingInner": 0, "paddingOuter": 0.1}, "axis": null}, "xOffset": {"field": "b", "type": "nominal", "sort": ["Absent", "C-Init", "C-Med"], "scale": {"paddingInner": 0, "paddingOuter": 0.1667}}, "y": {"field": "hi", "type": "quantitative", "scale": {"domain": [0.8, 5.2], "nice": false, "zero": false}}, "fill": {"value": "#000000"}}},
        {"transform": [{"filter": "isValid(datum.lo)"}], "mark": {"type": "point"}, "encoding": {"x": {"field": "c", "type": "nominal", "sort": ["/k/", "/g/", "/x/"], "scale": {"type": "band", "paddingInner": 0, "paddingOuter": 0.1}, "axis": {"title": null, "labelAngle": 0, "grid": true, "gridWidth": 1.4, "bandPosition": 0.5}}, "xOffset": {"field": "b", "type": "nominal", "sort": ["Absent", "C-Init", "C-Med"], "scale": {"paddingInner": 0, "paddingOuter": 0.1667}}, "fill": {"value": "#000000"}}}
      ],
      "resolve": {"scale": {"x": "independent"}}
    }
  ]
}
